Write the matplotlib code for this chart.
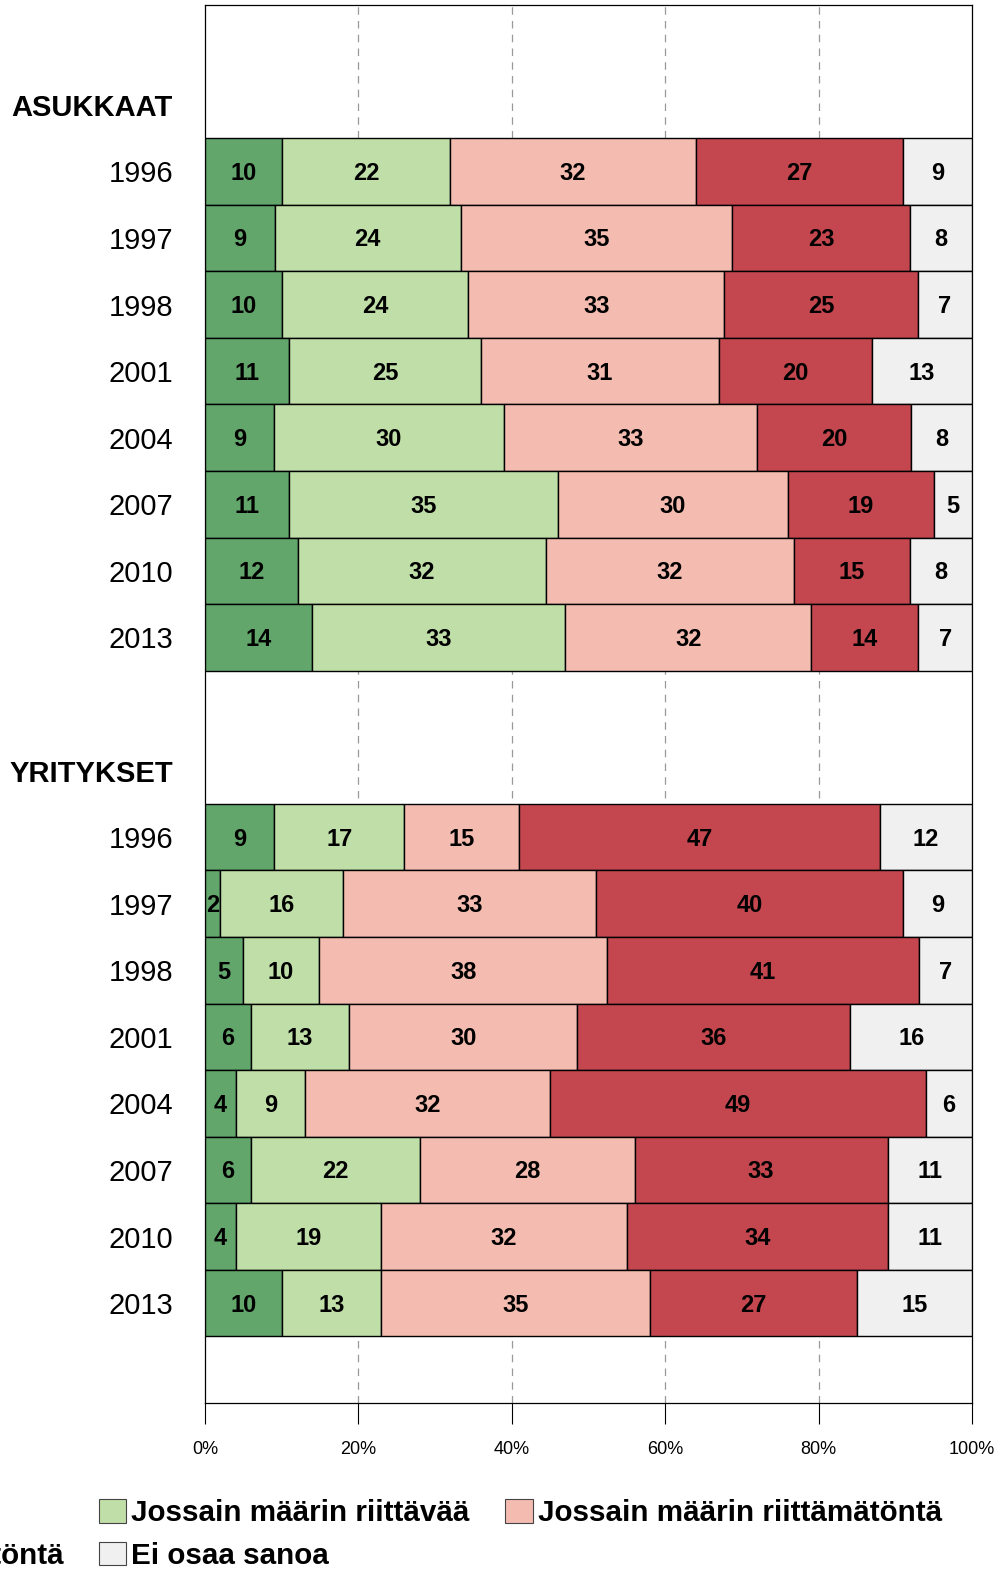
import matplotlib
matplotlib.use("Agg")
import matplotlib.pyplot as plt
import numpy as np
from matplotlib.patches import Patch

plt.rcParams['font.family'] = ['Liberation Sans', 'DejaVu Sans']

categories = ["Riittävää", "Jossain määrin riittävää", "Jossain määrin riittämätöntä",
              "Riittämätöntä", "Ei osaa sanoa"]
colors = ["#62a66c", "#c0dfa8", "#f4bcb0", "#c4474f", "#f0f0f0"]

years = ["1996", "1997", "1998", "2001", "2004", "2007", "2010", "2013"]

asukkaat = [
    [10, 22, 32, 27, 9],
    [9, 24, 35, 23, 8],
    [10, 24, 33, 25, 7],
    [11, 25, 31, 20, 13],
    [9, 30, 33, 20, 8],
    [11, 35, 30, 19, 5],
    [12, 32, 32, 15, 8],
    [14, 33, 32, 14, 7],
]
yritykset = [
    [9, 17, 15, 47, 12],
    [2, 16, 33, 40, 9],
    [5, 10, 38, 41, 7],
    [6, 13, 30, 36, 16],
    [4, 9, 32, 49, 6],
    [6, 22, 28, 33, 11],
    [4, 19, 32, 34, 11],
    [10, 13, 35, 27, 15],
]
groups = ["ASUKKAAT", "YRITYKSET"]
xticks = [0, 20, 40, 60, 80, 100]

fig = plt.figure(figsize=(10.04, 15.70), dpi=100)
ax = fig.add_axes([205/1004, 1 - 1403/1570, 767/1004, 1398/1570])

rows = []  # (label, values or None, is_header)
rows.append(("", None, False))
rows.append((groups[0], None, True))
for y, v in zip(years, asukkaat):
    rows.append((y, v, False))
rows.append(("", None, False))
rows.append((groups[1], None, True))
for y, v in zip(years, yritykset):
    rows.append((y, v, False))
rows.append(("", None, False))

for i, (lab, vals, hdr) in enumerate(rows):
    if vals is None:
        continue
    arr = np.array(vals, dtype=float)
    pct = arr / arr.sum() * 100
    left = 0.0
    for j, (p, v) in enumerate(zip(pct, vals)):
        ax.barh(i, p, left=left, height=1.0, color=colors[j], edgecolor="black",
                linewidth=1.0, zorder=3)
        ax.text(left + p / 2, i + 0.03, str(v), ha="center", va="center",
                fontsize=17, fontweight="bold", color="black", zorder=4)
        left += p

ax.set_ylim(len(rows) - 0.5, -0.5)
ax.set_xlim(0, 100)
ax.set_yticks(range(len(rows)))
ax.set_yticklabels([r[0] for r in rows], fontsize=21)
for tl, r in zip(ax.get_yticklabels(), rows):
    if r[2]:
        tl.set_fontweight("bold")
        tl.set_fontsize(21)
ax.tick_params(axis="y", length=0, pad=23)
ax.set_xticks(xticks)
ax.set_xticklabels([f"{t}%" for t in xticks], fontsize=13)
ax.tick_params(axis="x", length=15, width=0.8, pad=12, direction="out")
for t in xticks[1:-1]:
    ax.axvline(t, color="#999999", linestyle=(0, (6, 5)), linewidth=0.9, zorder=1)
for s in ax.spines.values():
    s.set_linewidth(0.9)

order = [0, 3, 1, 4, 2]
handles = [Patch(facecolor=colors[k], edgecolor="#444444", linewidth=0.8) for k in order]
labels = [categories[k] for k in order]
fig.legend(handles, labels, loc="upper left", bbox_to_anchor=(-159/1004, 1 - 1499/1570),
           ncol=3, frameon=False, prop={"size": 21.3, "weight": "bold"},
           handlelength=0.93, handleheight=0.85, handletextpad=0.17,
           columnspacing=1.2, labelspacing=0.5, borderpad=0, borderaxespad=0)

fig.savefig("out.png", dpi=100)
